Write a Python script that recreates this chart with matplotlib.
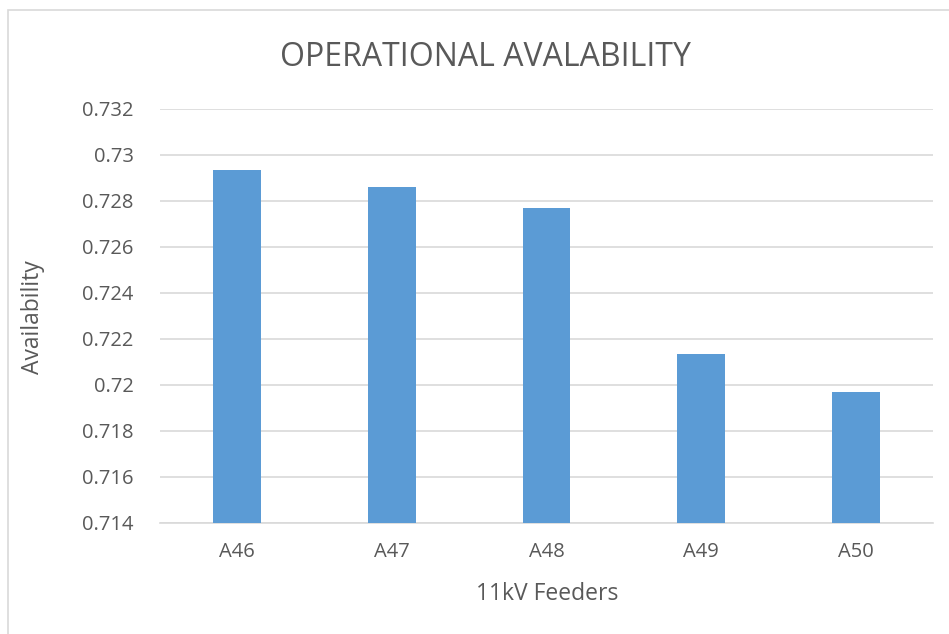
import matplotlib.pyplot as plt
import numpy as np

feeders = ["A46", "A47", "A48", "A49", "A50"]
availability = [0.72935, 0.72862, 0.72771, 0.72135, 0.71968]
ticks = [0.714, 0.716, 0.718, 0.72, 0.722, 0.724, 0.726, 0.728, 0.73, 0.732]
tick_labels = ["0.714", "0.716", "0.718", "0.72", "0.722", "0.724", "0.726", "0.728", "0.73", "0.732"]

plt.rcParams['font.family'] = ['Open Sans', 'DejaVu Sans']

fig = plt.figure(figsize=(9.49, 6.34), dpi=100)
ax = fig.add_axes([160 / 949, 1 - 523 / 634, 773 / 949, (523 - 109) / 634])

x = np.arange(len(feeders))
ax.bar(x, availability, width=0.31, color="#5b9bd5", zorder=3)

ax.set_ylim(0.714, 0.732)
ax.set_xlim(-0.5, len(feeders) - 0.5)
ax.set_yticks(ticks)
ax.set_yticklabels(tick_labels)
ax.set_xticks(x)
ax.set_xticklabels(feeders)
ax.tick_params(axis="both", length=0, colors="#595959", labelsize=14.5)
ax.tick_params(axis="y", pad=19)
ax.tick_params(axis="x", pad=14)
ax.grid(axis="y", color="#d9d9d9", linewidth=1.2, zorder=0)
for s in ["top", "right", "left"]:
    ax.spines[s].set_visible(False)
ax.spines["bottom"].set_color("#d9d9d9")
ax.spines["bottom"].set_linewidth(1.2)

fig.text(547 / 949, 1 - 594 / 634, "11kV Feeders", ha="center", va="center",
         fontsize=16.5, color="#595959")
fig.text(33 / 949, 1 - 317 / 634, "Availability", ha="center", va="center",
         rotation=90, fontsize=16.5, color="#595959")
fig.text(485 / 949, 1 - 57 / 634, "OPERATIONAL AVALABILITY", ha="center", va="center",
         fontsize=23, color="#595959")

# outer border of the chart area (left and top edges visible)
fig.patches.append(plt.Rectangle((8 / 949, -0.05), 1.1, 1 - 10 / 634 + 0.05, transform=fig.transFigure,
                                 fill=False, edgecolor="#d9d9d9", linewidth=1.2))

fig.savefig("out.png", dpi=100)
